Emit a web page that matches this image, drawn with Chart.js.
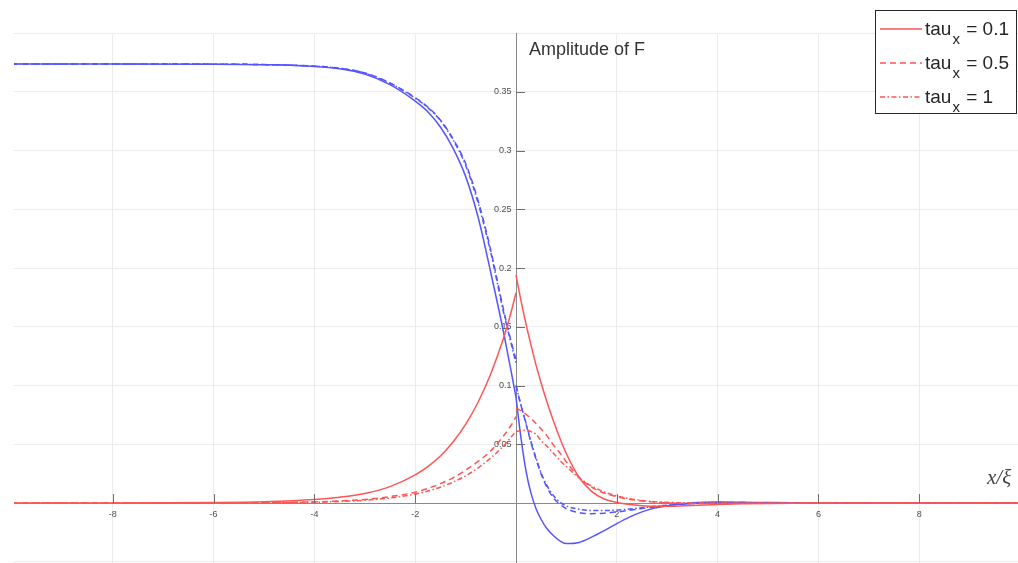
<!DOCTYPE html>
<html lang="en">
<head>
    <meta charset="UTF-8">
    <title>Amplitude of F</title>
    <script src="https://cdn.jsdelivr.net/npm/chart.js"></script>
    <style>
        body { margin: 0; background: #fff; }
        .chart-container { position: relative; width: 1018px; height: 563px; }
    </style>
</head>
<body>
    <div class="chart-container">
        <canvas id="ampChart"></canvas>
    </div>
    <script>
        // x positions: left branch ends at 0, right branch starts again at 0
        const xs = [-10, -8, -6, -5, -4, -3.5, -3, -2.5, -2, -1.75, -1.5, -1.25, -1, -0.75, -0.5, -0.25, -0.1, 0,
                    0, 0.1, 0.2, 0.3, 0.4, 0.5, 0.6, 0.75, 0.9, 1, 1.25, 1.5, 1.75, 2, 2.25, 2.5, 2.75, 3, 3.5, 4, 4.5, 5, 6, 8, 10];
        const leftCount = 18;

        const tauLabels = ['0.1', '0.5', '1'];

        // blue curves
        const blueTau01 = [0.3736, 0.3736, 0.3735, 0.3730, 0.3715, 0.3695, 0.3650, 0.3560, 0.3420, 0.3330, 0.3200, 0.3020, 0.2780, 0.2430, 0.1960, 0.1460, 0.1130, 0.0900,
                           0.0900, 0.0550, 0.0270, 0.0080, -0.0050, -0.0140, -0.0210, -0.0280, -0.0330, -0.0345, -0.0335, -0.0290, -0.0235, -0.0175, -0.0120, -0.0075, -0.0043, -0.0022, 0.0002, 0.0009, 0.0007, 0.0004, 0.0001, 0, 0];
        const blueTau05 = [0.3736, 0.3736, 0.3735, 0.3731, 0.3718, 0.3700, 0.3660, 0.3575, 0.3450, 0.3370, 0.3260, 0.3100, 0.2890, 0.2570, 0.2150, 0.1650, 0.1380, 0.1220,
                           0.1000, 0.0830, 0.0670, 0.0510, 0.0370, 0.0245, 0.0145, 0.0040, -0.0020, -0.0048, -0.0082, -0.0090, -0.0086, -0.0076, -0.0062, -0.0047, -0.0033, -0.0021, -0.0004, 0.0004, 0.0004, 0.0002, 0.0001, 0, 0];
        const blueTau1 = [0.3736, 0.3736, 0.3735, 0.3731, 0.3718, 0.3700, 0.3658, 0.3572, 0.3445, 0.3365, 0.3255, 0.3092, 0.2875, 0.2550, 0.2130, 0.1630, 0.1365, 0.1190,
                          0.1000, 0.0830, 0.0680, 0.0520, 0.0380, 0.0255, 0.0160, 0.0060, 0.0000, -0.0025, -0.0052, -0.0063, -0.0064, -0.0060, -0.0051, -0.0040, -0.0028, -0.0018, -0.0004, 0.0003, 0.0003, 0.0002, 0.0001, 0, 0];

        // red curves
        const redTau01 = [0, 0.00005, 0.0004, 0.0011, 0.0030, 0.0050, 0.0082, 0.0140, 0.0240, 0.0310, 0.0400, 0.0520, 0.0670, 0.0860, 0.1100, 0.1400, 0.1620, 0.1790,
                          0.1940, 0.1720, 0.1520, 0.1340, 0.1170, 0.1020, 0.0880, 0.0690, 0.0520, 0.0420, 0.0220, 0.0100, 0.0035, 0.0005, -0.0013, -0.0023, -0.0028, -0.0028, -0.0021, -0.0012, -0.0006, -0.0003, 0, 0, 0];
        const redTau05 = [0, 0, 0.0001, 0.0003, 0.0010, 0.0018, 0.0031, 0.0055, 0.0092, 0.0125, 0.0165, 0.0215, 0.0280, 0.0355, 0.0445, 0.0570, 0.0660, 0.0735,
                          0.0810, 0.0785, 0.0755, 0.0720, 0.0675, 0.0630, 0.0580, 0.0490, 0.0410, 0.0350, 0.0220, 0.0135, 0.0085, 0.0055, 0.0033, 0.0018, 0.0008, 0.0002, -0.0003, -0.0003, -0.0002, -0.0001, 0, 0, 0];
        const redTau1 = [0, 0, 0.0001, 0.0002, 0.0007, 0.0013, 0.0024, 0.0043, 0.0077, 0.0102, 0.0135, 0.0178, 0.0232, 0.0300, 0.0385, 0.0485, 0.0560, 0.0607,
                         0.0607, 0.0618, 0.0620, 0.0608, 0.0585, 0.0530, 0.0490, 0.0420, 0.0350, 0.0310, 0.0215, 0.0145, 0.0095, 0.0060, 0.0038, 0.0022, 0.0012, 0.0006, 0.0001, 0, 0, 0, 0, 0, 0];

        const xTicks = [-8, -6, -4, -2, 2, 4, 6, 8];
        const yTicks = [0.05, 0.1, 0.15, 0.2, 0.25, 0.3, 0.35];

        const BLUE = 'rgb(85, 85, 255)';
        const RED = 'rgb(255, 85, 85)';
        const dashes = [[], [6, 4], [5, 2.5, 1.5, 2.5]];

        // turn a series into points, with a break at x = 0
        function toPoints(values) {
            const pts = [];
            values.forEach((v, i) => {
                if (i === leftCount) pts.push({ x: 0, y: null });
                pts.push({ x: xs[i], y: v });
            });
            return pts;
        }

        function makeSet(values, color, dashIdx) {
            return {
                data: toPoints(values),
                borderColor: color,
                borderWidth: 1.5,
                borderDash: dashes[dashIdx],
                pointRadius: 0,
                fill: false,
                spanGaps: false,
                cubicInterpolationMode: 'monotone'
            };
        }

        const fmt = v => String(Number(v.toFixed(2)));

        // axis tick marks, title, x label and legend
        const decorPlugin = {
            id: 'decor',
            afterDraw(chart) {
                const ctx = chart.ctx;
                const sx = chart.scales.x, sy = chart.scales.y;
                const x0 = sx.getPixelForValue(0), y0 = sy.getPixelForValue(0);
                ctx.save();
                ctx.strokeStyle = '#6e6e6e';
                ctx.lineWidth = 1;
                ctx.beginPath();
                xTicks.forEach(t => {
                    const px = Math.round(sx.getPixelForValue(t)) + 0.5;
                    ctx.moveTo(px, y0); ctx.lineTo(px, y0 - 9);
                });
                yTicks.forEach(t => {
                    const py = Math.round(sy.getPixelForValue(t)) + 0.5;
                    ctx.moveTo(x0, py); ctx.lineTo(x0 + 9, py);
                });
                ctx.stroke();

                ctx.fillStyle = '#333';
                ctx.font = '18px "Liberation Sans", Arial, sans-serif';
                ctx.textBaseline = 'alphabetic';
                ctx.fillText('Amplitude of F', 529, 55);

                ctx.font = 'italic 21px "Liberation Serif", "Times New Roman", serif';
                ctx.fillStyle = '#444';
                ctx.fillText('x/ξ', 987, 484);

                // legend
                ctx.fillStyle = '#fff';
                ctx.fillRect(875, 10, 141, 103);
                ctx.strokeStyle = '#262626';
                ctx.strokeRect(875.5, 10.5, 141, 103);
                const rows = [29, 63, 97];
                tauLabels.forEach((lab, i) => {
                    const ly = rows[i];
                    ctx.strokeStyle = RED;
                    ctx.lineWidth = 1.5;
                    ctx.setLineDash(dashes[i]);
                    ctx.beginPath();
                    ctx.moveTo(880, ly); ctx.lineTo(922, ly);
                    ctx.stroke();
                    ctx.setLineDash([]);
                    ctx.fillStyle = '#262626';
                    ctx.font = '19px "Liberation Sans", Arial, sans-serif';
                    ctx.fillText('tau', 925, ly + 6);
                    const w = ctx.measureText('tau').width;
                    ctx.font = '15px "Liberation Sans", Arial, sans-serif';
                    ctx.fillText('x', 925 + w + 1, ly + 15);
                    const w2 = ctx.measureText('x').width;
                    ctx.font = '19px "Liberation Sans", Arial, sans-serif';
                    ctx.fillText(' = ' + lab, 925 + w + w2 + 2, ly + 6);
                });
                ctx.restore();
            }
        };

        function zeroPadding(scale) {
            scale.paddingTop = 0; scale.paddingBottom = 0;
            scale.paddingLeft = 0; scale.paddingRight = 0;
        }

        new Chart(document.getElementById('ampChart'), {
            type: 'line',
            data: {
                datasets: [
                    makeSet(redTau01, RED, 0),
                    makeSet(redTau05, RED, 1),
                    makeSet(redTau1, RED, 2),
                    makeSet(blueTau01, BLUE, 0),
                    makeSet(blueTau05, BLUE, 1),
                    makeSet(blueTau1, BLUE, 2)
                ]
            },
            options: {
                responsive: true,
                maintainAspectRatio: false,
                animation: false,
                layout: { padding: { left: 14, top: 33, right: 0, bottom: 0 } },
                plugins: { legend: { display: false }, tooltip: { enabled: false } },
                scales: {
                    x: {
                        type: 'linear',
                        position: { y: 0 },
                        min: -9.96,
                        max: 9.96,
                        afterFit: zeroPadding,
                        ticks: {
                            stepSize: 2,
                            includeBounds: false,
                            autoSkip: false,
                            maxRotation: 0,
                            padding: 6,
                            color: '#4d4d4d',
                            font: { size: 9, family: '"Liberation Sans", Arial, sans-serif' },
                            callback: v => (v === 0 || Math.abs(v) >= 10) ? '' : fmt(v)
                        },
                        grid: { color: '#ececec', drawTicks: false },
                        border: { color: '#8a8a8a' }
                    },
                    y: {
                        type: 'linear',
                        position: { x: 0 },
                        min: -0.051,
                        max: 0.4,
                        afterFit: zeroPadding,
                        ticks: {
                            stepSize: 0.05,
                            includeBounds: false,
                            autoSkip: false,
                            color: '#4d4d4d',
                            font: { size: 9, family: '"Liberation Sans", Arial, sans-serif' },
                            // trailing en space keeps the label clear of the axis line
                            callback: v => (v <= 0.001 || v >= 0.399) ? '' : fmt(v) + '\u2002'
                        },
                        grid: { color: '#ececec', drawTicks: false },
                        border: { color: '#8a8a8a' }
                    }
                }
            },
            plugins: [decorPlugin]
        });
    </script>
</body>
</html>
